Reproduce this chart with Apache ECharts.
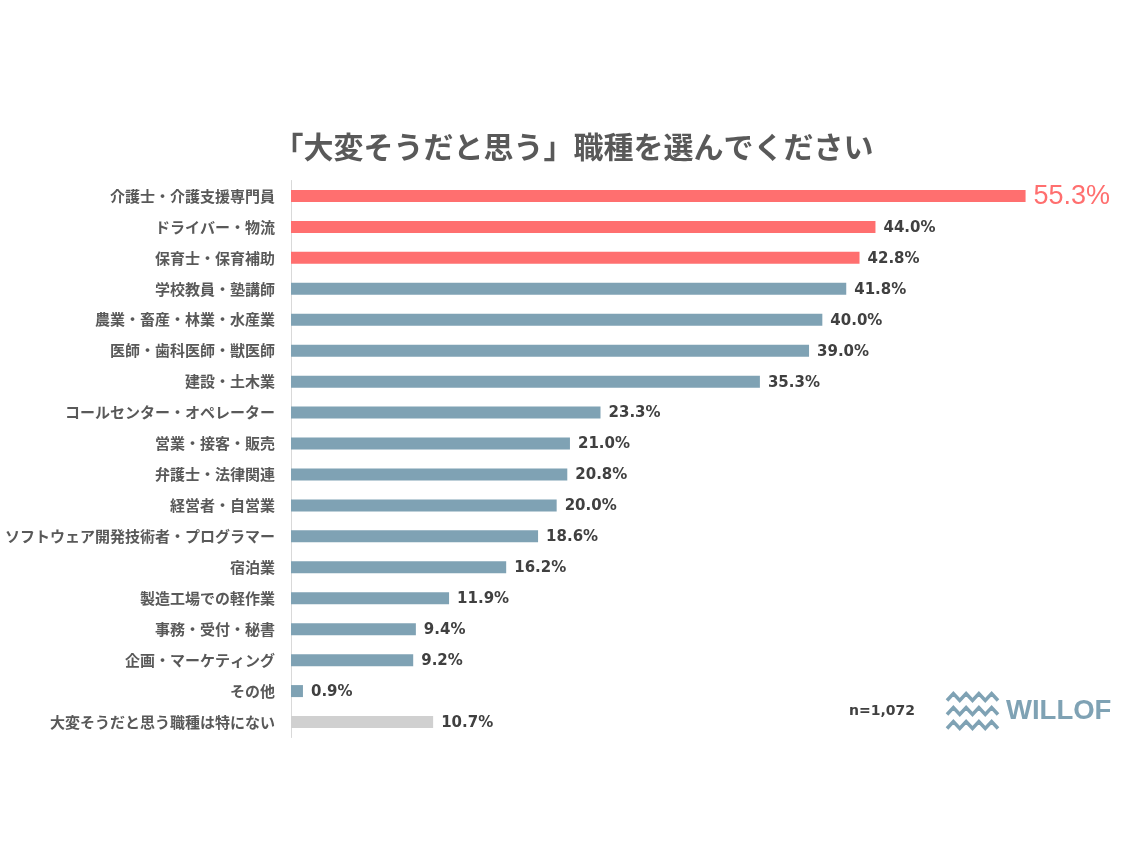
<!DOCTYPE html>
<html><head><meta charset="utf-8">
<script src="https://cdn.jsdelivr.net/npm/echarts@6/dist/echarts.min.js"></script>
<style>html,body{margin:0;padding:0;background:#fff}#c{width:1147px;height:860px}</style>
</head><body><div id="c"></div>
<script>
const categories = ["介護士・介護支援専門員","ドライバー・物流","保育士・保育補助","学校教員・塾講師","農業・畜産・林業・水産業","医師・歯科医師・獣医師","建設・土木業","コールセンター・オペレーター","営業・接客・販売","弁護士・法律関連","経営者・自営業","ソフトウェア開発技術者・プログラマー","宿泊業","製造工場での軽作業","事務・受付・秘書","企画・マーケティング","その他","大変そうだと思う職種は特にない"];
const values = [55.3,44.0,42.8,41.8,40.0,39.0,35.3,23.3,21.0,20.8,20.0,18.6,16.2,11.9,9.4,9.2,0.9,10.7];
const groups = ["red","red","red","blue","blue","blue","blue","blue","blue","blue","blue","blue","blue","blue","blue","blue","blue","grey"];
const colorMap = {red:"#FF6F6F", blue:"#7FA2B4", grey:"#D0D0D0"};

const chart = echarts.init(document.getElementById('c'));
const data = values.map((v,i)=>{
  const d = {value:v, itemStyle:{color:colorMap[groups[i]]}};
  if(i===0){ d.label = {fontSize:27, fontWeight:'normal', color:'#FF6F6F', fontFamily:'Liberation Sans Narrow, Liberation Sans, sans-serif'}; }
  return d;
});
function wave(y){
  const pts=[]; const x0=947, w=51, n=8;
  for(let k=0;k<=n;k++){ pts.push([x0+k*w/n, y + (k%2===0?3.5:-3.5)]); }
  return {type:'polyline', shape:{points:pts}, style:{stroke:'#7FA2B4', lineWidth:3.5, fill:null, lineJoin:'miter'}};
}
chart.setOption({
  animation:false,
  title:{text:'「大変そうだと思う」職種を選んでください', left:'center', top:127,
    textStyle:{fontSize:30, fontWeight:'bold', color:'#595959', fontFamily:'Noto Sans CJK JP'}},
  grid:{left:291, right:59, top:180.5, bottom:122.5, containLabel:false},
  xAxis:{type:'value', min:0, max:60, show:false},
  yAxis:{type:'category', data:categories, inverse:true,
    axisLine:{show:true, lineStyle:{color:'#D9D9D9', width:1}},
    axisTick:{show:false},
    axisLabel:{fontSize:15, fontWeight:'bold', color:'#595959', margin:16, fontFamily:'Noto Sans CJK JP'}},
  series:[{type:'bar', data:data, barWidth:12,
    label:{show:true, position:'right', distance:8, offset:[0,1], formatter:p=>p.value.toFixed(1)+'%',
      fontSize:15, fontWeight:'bold', color:'#404040', fontFamily:'DejaVu Sans'}}],
  graphic:[
    {type:'text', left:849, top:704, style:{text:'n=1,072', fontSize:14, fontWeight:'bold', fill:'#404040', fontFamily:'DejaVu Sans'}},
    wave(697), wave(711), wave(725),
    {type:'text', left:1006, top:697, style:{text:'WILLOF', fontSize:27.5, fontWeight:'bold', fill:'#7FA2B4', fontFamily:'Liberation Sans'}}
  ]
});
</script></body></html>
